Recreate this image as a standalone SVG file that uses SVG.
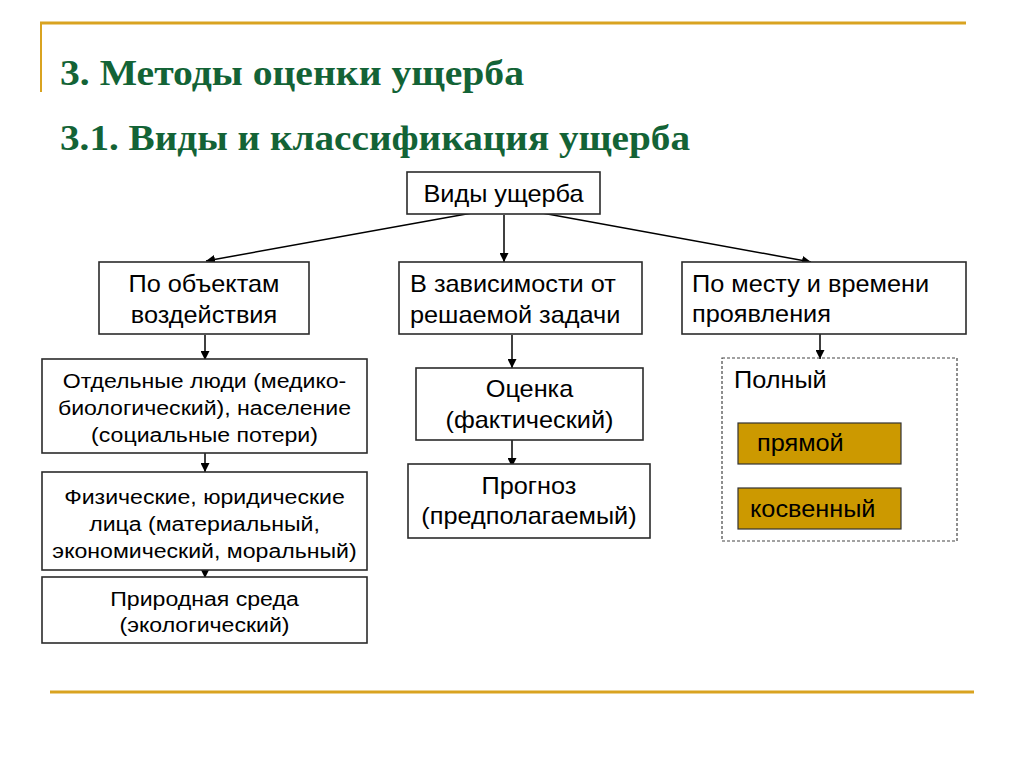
<svg xmlns="http://www.w3.org/2000/svg" width="1024" height="767" viewBox="0 0 1024 767">
<style>
.title{font-family:"Liberation Serif","Times New Roman",serif;font-weight:bold;font-size:36px;fill:#136336}
.box{fill:#ffffff;stroke:#2b2b2b;stroke-width:1.6}
.gold{fill:#cc9900;stroke:#333333;stroke-width:1.2}
.dash{fill:none;stroke:#444444;stroke-width:1.2;stroke-dasharray:3 2}
.t{font-family:"Liberation Sans",Arial,sans-serif;font-size:23px;fill:#000000}
.s{font-family:"Liberation Sans",Arial,sans-serif;font-size:21px;fill:#000000}
.c{text-anchor:middle}
.rule{stroke:#d9a320;stroke-width:3;fill:none}
.conn line{stroke:#000000;stroke-width:1.5;marker-end:url(#arr)}
</style>
<defs>
<marker id="arr" viewBox="0 0 10 10" refX="10" refY="5" markerWidth="9" markerHeight="9" markerUnits="userSpaceOnUse" orient="auto">
<path d="M0,0 L10,5 L0,10 z" fill="#000000"/>
</marker>
</defs>
<rect x="0" y="0" width="1024" height="767" fill="#ffffff"/>
<g id="frame">
<line class="rule" x1="40" y1="23" x2="966" y2="23"/>
<line class="rule" x1="41" y1="22" x2="41" y2="92" style="stroke-width:2"/>
<line class="rule" x1="50" y1="692" x2="974" y2="692"/>
</g>
<g id="titles">
<text class="title" x="60" y="85" textLength="464" lengthAdjust="spacingAndGlyphs">3. Методы оценки ущерба</text>
<text class="title" x="60" y="150" textLength="630" lengthAdjust="spacingAndGlyphs">3.1. Виды и классификация ущерба</text>
</g>
<g class="conn" id="connectors">
<line x1="472" y1="213" x2="206" y2="261"/>
<line x1="504" y1="215" x2="504" y2="262"/>
<line x1="542" y1="213" x2="811" y2="262"/>
<line x1="205" y1="335" x2="205" y2="360"/>
<line x1="512" y1="335" x2="512" y2="368"/>
<line x1="820" y1="334" x2="820" y2="359"/>
<line x1="205" y1="453" x2="205" y2="472"/>
<line x1="512" y1="440" x2="512" y2="467"/>
<line x1="205" y1="570" x2="205" y2="578"/>
</g>
<g id="n-root">
<rect class="box" x="407" y="172" width="193" height="42"/>
<text class="t c" transform="translate(503.5 202) scale(1.1 1)">Виды ущерба</text>
</g>
<g id="n-objects">
<rect class="box" x="99" y="262" width="210" height="72"/>
<text class="t c" transform="translate(204 292) scale(1.1 1)">По объектам</text>
<text class="t c" transform="translate(204 323) scale(1.1 1)">воздействия</text>
</g>
<g id="n-task">
<rect class="box" x="399" y="262" width="243" height="72"/>
<text class="t" transform="translate(410 292) scale(1.1 1)">В зависимости от</text>
<text class="t" transform="translate(410 323) scale(1.1 1)">решаемой задачи</text>
</g>
<g id="n-place">
<rect class="box" x="682" y="262" width="284" height="72"/>
<text class="t" transform="translate(692 292) scale(1.1 1)">По месту и времени</text>
<text class="t" transform="translate(692 322) scale(1.1 1)">проявления</text>
</g>
<g id="n-people">
<rect class="box" x="42" y="359" width="325" height="94"/>
<text class="s c" transform="translate(204.5 388) scale(1.1 1)">Отдельные люди (медико-</text>
<text class="s c" transform="translate(204.5 415) scale(1.1 1)">биологический), население</text>
<text class="s c" transform="translate(204.5 442) scale(1.1 1)">(социальные потери)</text>
</g>
<g id="n-legal">
<rect class="box" x="42" y="472" width="325" height="98"/>
<text class="s c" transform="translate(204.5 504) scale(1.1 1)">Физические, юридические</text>
<text class="s c" transform="translate(204.5 531) scale(1.1 1)">лица (материальный,</text>
<text class="s c" transform="translate(204.5 558) scale(1.1 1)">экономический, моральный)</text>
</g>
<g id="n-nature">
<rect class="box" x="42" y="577" width="325" height="66"/>
<text class="s c" transform="translate(204.5 606) scale(1.1 1)">Природная среда</text>
<text class="s c" transform="translate(204.5 632) scale(1.1 1)">(экологический)</text>
</g>
<g id="n-estimate">
<rect class="box" x="416" y="368" width="227" height="72"/>
<text class="t c" transform="translate(529.5 397) scale(1.1 1)">Оценка</text>
<text class="t c" transform="translate(529.5 428) scale(1.1 1)">(фактический)</text>
</g>
<g id="n-forecast">
<rect class="box" x="408" y="464" width="242" height="74"/>
<text class="t c" transform="translate(529 494) scale(1.1 1)">Прогноз</text>
<text class="t c" transform="translate(529 524) scale(1.1 1)">(предполагаемый)</text>
</g>
<g id="n-full">
<rect class="dash" x="722" y="358" width="235" height="183"/>
<text class="t" transform="translate(734 388) scale(1.1 1)">Полный</text>
</g>
<g id="n-direct">
<rect class="gold" x="738" y="423" width="163" height="41"/>
<text class="t" transform="translate(757 451) scale(1.1 1)">прямой</text>
</g>
<g id="n-indirect">
<rect class="gold" x="738" y="488" width="163" height="41"/>
<text class="t" transform="translate(750 517) scale(1.1 1)">косвенный</text>
</g>
</svg>
